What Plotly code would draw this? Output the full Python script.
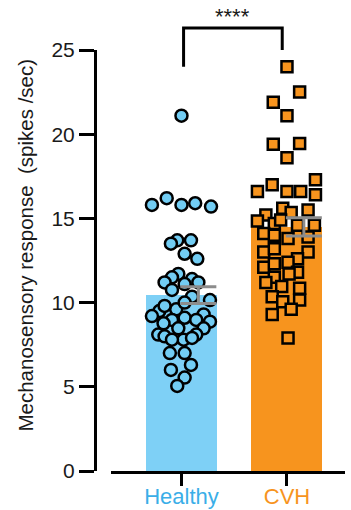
import numpy as np
import plotly.graph_objects as go

# Groups and their colours
groups = ["Healthy", "CVH"]
bar_colors = ["#7ED0F6", "#F7941E"]
label_colors = ["#3AAEE8", "#F7941E"]

# Individual responses (spikes/sec) per group
healthy_values = [
    21.1,
    16.2, 15.8, 15.8, 15.9, 15.7,
    13.7, 13.5, 13.7, 12.9, 12.6,
    11.7, 11.5, 11.2, 11.4, 11.2, 11.1,
    10.75, 10.35, 10.15,
    9.6, 9.5, 9.2, 9.3, 9.1, 8.97, 8.97, 8.87, 8.77,
    8.47, 8.47, 8.1, 8.0, 8.1, 7.8, 7.8, 7.9,
    7.0, 7.0, 6.3, 6.0, 5.55, 5.05,
    9.8, 10.0,
]
healthy_jitter = [
    0.00,
    -0.14, -0.28, 0.00, 0.13, 0.28,
    -0.04, -0.10, 0.09, 0.03, 0.15,
    -0.03, -0.09, -0.16, 0.10, 0.16, 0.03,
    -0.09, 0.10, 0.27,
    -0.05, -0.21, -0.28, 0.21, 0.03, -0.09, 0.14, 0.27, -0.17,
    -0.03, 0.21, -0.22, -0.16, 0.14, 0.02, -0.09, 0.10,
    -0.11, 0.03, 0.09, -0.10, 0.03, -0.04,
    -0.16, 0.03,
]

cvh_values = [
    24.0, 22.5, 21.9, 21.1, 19.4, 19.45, 18.6,
    17.3, 17.0, 16.6, 16.6, 16.6, 16.4,
    15.6, 15.35, 15.5, 15.2, 14.85, 14.6, 14.6, 14.7, 14.9,
    14.1, 14.0, 13.8, 13.9,
    13.0, 13.2, 13.0, 12.6, 12.4, 12.1, 12.3,
    11.8, 11.7, 11.5, 11.2, 10.95, 10.85,
    10.35, 10.05, 10.15,
    9.3, 9.6,
    7.9,
]
cvh_jitter = [
    0.00, 0.12, -0.13, 0.00, -0.13, 0.12, 0.00,
    0.27, -0.14, -0.28, 0.00, 0.13, 0.27,
    -0.04, 0.04, 0.20, -0.20, -0.28, 0.26, 0.10, -0.12, -0.06,
    -0.22, -0.12, 0.01, 0.20,
    -0.22, -0.12, 0.20, 0.10, 0.01, -0.22, -0.12,
    0.10, 0.02, -0.12, -0.20, -0.05, 0.12,
    -0.14, -0.04, 0.12,
    -0.14, 0.04,
    0.01,
]

y_ticks = [0, 5, 10, 15, 20, 25]
significance = "****"

FONT = "Liberation Sans, Arial, sans-serif"
Y_MAX = 25

series = [np.array(healthy_values), np.array(cvh_values)]
means = [float(s.mean()) for s in series]
sems = [float(s.std(ddof=1) / np.sqrt(len(s))) for s in series]
xpos = np.arange(len(groups), dtype=float)

fig = go.Figure()

# Mean bars
fig.add_trace(go.Bar(
    x=xpos, y=means, width=0.673,
    marker=dict(color=bar_colors, line=dict(width=0)),
    showlegend=False, hoverinfo="skip",
))

# Individual points
fig.add_trace(go.Scatter(
    x=xpos[0] + np.array(healthy_jitter), y=healthy_values, mode="markers",
    marker=dict(symbol="circle", size=12, color="#72CDF4",
                line=dict(color="black", width=2.5)),
    showlegend=False, cliponaxis=False,
))
fig.add_trace(go.Scatter(
    x=xpos[1] + np.array(cvh_jitter), y=cvh_values, mode="markers",
    marker=dict(symbol="square", size=11, color="#F7941E",
                line=dict(color="black", width=2.5)),
    showlegend=False, cliponaxis=False,
))

# SEM error bars, set beside the bar centre
fig.add_trace(go.Scatter(
    x=xpos + 0.16, y=means, mode="markers",
    marker=dict(size=1, opacity=0),
    error_y=dict(type="data", array=sems, color="#8C8C8C", thickness=3, width=18),
    showlegend=False, hoverinfo="skip",
))

# Significance bracket
def to_paper(v):
    return v / Y_MAX

top = to_paper(26.3)
left_end = to_paper(24.0)
right_end = to_paper(25.0)
x_left, x_right = xpos[0] + 0.02, xpos[1] - 0.045
fig.add_shape(
    type="path", xref="x", yref="paper",
    path=f"M {x_left},{left_end} L {x_left},{top} L {x_right},{top} L {x_right},{right_end}",
    line=dict(color="black", width=3),
)
fig.add_annotation(
    x=(x_left + x_right) / 2, xref="x", y=top, yref="paper",
    text=significance, showarrow=False, yanchor="bottom", yshift=-3,
    font=dict(family=FONT, size=22, color="#1a1a1a"),
)

# Y axis title
fig.add_annotation(
    x=-0.276, xref="paper", y=0.5356, yref="paper",
    text="Mechanosensory response&nbsp; (spikes /sec)",
    textangle=-90, showarrow=False, xanchor="center", yanchor="middle",
    font=dict(family=FONT, size=20.5, color="#1a1a1a"),
)

ticktext = [f"<span style='color:{c}'>{g}</span>" for g, c in zip(groups, label_colors)]

fig.update_layout(
    width=351, height=510,
    margin=dict(l=95, r=6, t=50, b=39),
    paper_bgcolor="white", plot_bgcolor="white",
    font=dict(family=FONT, color="#1a1a1a"),
    bargap=0,
    xaxis=dict(
        domain=[0.064, 1], range=[-0.668, 1.55],
        tickvals=list(xpos), ticktext=ticktext,
        tickfont=dict(size=22),
        ticks="outside", ticklen=12, tickwidth=3, tickcolor="black",
        ticklabelstandoff=-8,
        showline=True, linewidth=3, linecolor="black",
        showgrid=False, zeroline=False, automargin=False,
    ),
    yaxis=dict(
        anchor="free", position=0,
        range=[0, Y_MAX], tickvals=y_ticks,
        tickfont=dict(size=21, color="#1a1a1a"),
        ticks="outside", ticklen=15, tickwidth=3, tickcolor="black",
        showline=True, linewidth=3, linecolor="black",
        showgrid=False, zeroline=False, automargin=False,
    ),
)

fig.write_html("out.html")
